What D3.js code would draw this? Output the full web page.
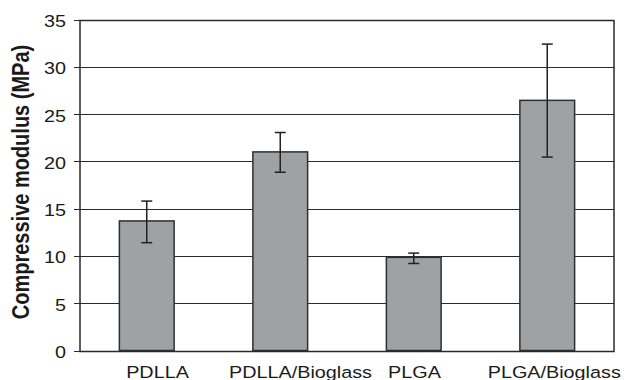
<!DOCTYPE html>
<html>
<head>
<meta charset="utf-8">
<script src="https://cdn.jsdelivr.net/npm/d3@7/dist/d3.min.js"></script>
<style>
  html, body { margin: 0; padding: 0; background: #fff; }
  svg { display: block; }
  text { font-family: "Liberation Sans", Arial, sans-serif; fill: #1a1a1a; }
</style>
</head>
<body>
<svg id="chart" width="627" height="380"></svg>
<script>
// ---- data ----
const categories = ["PDLLA", "PDLLA/Bioglass", "PLGA", "PLGA/Bioglass"];
const means      = [13.7, 21.0, 9.85, 26.45];
const errLow     = [11.4, 18.85, 9.2, 20.45];
const errHigh    = [15.8, 23.05, 10.3, 32.4];
const yTicks     = [0, 5, 10, 15, 20, 25, 30, 35];
const yTitle     = "Compressive modulus (MPa)";

// ---- layout / style ----
const W = 627, H = 380;
const m = { left: 80, right: 13, top: 19.5, bottom: 29.5 };
const sx = 1.2; // horizontal text stretch seen in the reference
const labelShift = [10.75, 20.25, 0.75, 7]; // category label offsets (px)

const svg = d3.select("#chart");
const x = d3.scaleBand().domain(categories).range([m.left, W - m.right]).paddingInner(0.59).paddingOuter(0.295);
const y = d3.scaleLinear().domain([0, 35]).range([H - m.bottom, m.top]);

const g = svg.append("g");

// gridlines
g.selectAll("line.grid").data(yTicks.filter(d => d > 0)).join("line")
  .attr("x1", m.left).attr("x2", W - m.right)
  .attr("y1", d => Math.round(y(d)) + 0.5).attr("y2", d => Math.round(y(d)) + 0.5)
  .attr("stroke", "#2a2a2a").attr("stroke-width", 1);

// left tick marks
g.selectAll("line.tick").data(yTicks).join("line")
  .attr("x1", m.left - 6).attr("x2", m.left)
  .attr("y1", d => Math.round(y(d)) + 0.5).attr("y2", d => Math.round(y(d)) + 0.5)
  .attr("stroke", "#2a2a2a").attr("stroke-width", 1);

// tick labels
g.selectAll("text.tl").data(yTicks).join("text")
  .attr("transform", d => `translate(${m.left - 14},${y(d) + 7.5}) scale(${sx},1)`)
  .attr("text-anchor", "end")
  .attr("font-size", 16.5)
  .text(d => d);

// bars
g.selectAll("rect.bar").data(categories).join("rect")
  .attr("x", d => x(d))
  .attr("y", (d, i) => y(means[i]))
  .attr("width", x.bandwidth())
  .attr("height", (d, i) => y(0) - y(means[i]))
  .attr("fill", "#a0a1a3")
  .attr("stroke", "#2e2e2e").attr("stroke-width", 1.5);

// error bars
const cx = d => x(d) + x.bandwidth() / 2;
const eb = g.selectAll("g.eb").data(categories).join("g");
eb.append("line").attr("x1", cx).attr("x2", cx)
  .attr("y1", (d, i) => y(errHigh[i])).attr("y2", (d, i) => y(errLow[i]))
  .attr("stroke", "#222").attr("stroke-width", 1.5);
eb.append("line").attr("x1", d => cx(d) - 5.5).attr("x2", d => cx(d) + 5.5)
  .attr("y1", (d, i) => y(errHigh[i])).attr("y2", (d, i) => y(errHigh[i]))
  .attr("stroke", "#222").attr("stroke-width", 1.5);
eb.append("line").attr("x1", d => cx(d) - 5.5).attr("x2", d => cx(d) + 5.5)
  .attr("y1", (d, i) => y(errLow[i])).attr("y2", (d, i) => y(errLow[i]))
  .attr("stroke", "#222").attr("stroke-width", 1.5);

// frame
g.append("rect")
  .attr("x", m.left).attr("y", Math.round(y(35)) + 0.5)
  .attr("width", W - m.right - m.left).attr("height", Math.round(y(0)) - Math.round(y(35)))
  .attr("fill", "none").attr("stroke", "#2a2a2a").attr("stroke-width", 1.5);

// category labels
g.selectAll("text.cl").data(categories).join("text")
  .attr("transform", (d, i) => `translate(${cx(d) + labelShift[i]},${H - 2.5}) scale(${sx},1)`)
  .attr("text-anchor", "middle")
  .attr("font-size", 16.5)
  .text(d => d);

// y title
g.append("text")
  .attr("transform", `translate(29,182) scale(${sx},1) rotate(-90)`)
  .attr("text-anchor", "middle")
  .attr("font-size", 20)
  .attr("font-weight", "bold")
  .text(yTitle);
</script>
</body>
</html>
